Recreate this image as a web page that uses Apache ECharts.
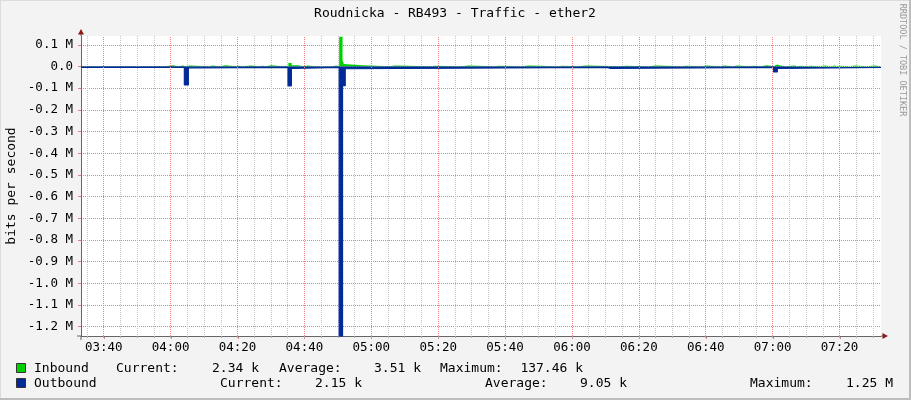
<!DOCTYPE html>
<html><head><meta charset="utf-8">
<script src="https://cdn.jsdelivr.net/npm/echarts@6/dist/echarts.min.js"></script>
<style>
html,body{margin:0;padding:0;background:#f3f3f3;overflow:hidden}
#c{position:absolute;left:0;top:0;width:911px;height:400px}
.b{position:absolute;pointer-events:none}
</style></head>
<body>
<div id="c"></div>
<div class="b" style="left:0;top:0;width:911px;height:1px;background:#dcdcdc"></div>
<div class="b" style="left:0;top:0;width:1px;height:400px;background:#dcdcdc"></div>
<div class="b" style="left:909px;top:0;width:2px;height:400px;background:#bdbdbd"></div>
<div class="b" style="left:0;top:398px;width:911px;height:2px;background:#bdbdbd"></div>
<script>
// ---------- data ----------
const chartTitle = 'Roudnicka - RB493 - Traffic - ether2';
const yAxisName = 'bits per second';
const creditText = 'RRDTOOL / TOBI OETIKER';
// time in minutes since midnight (03:33.2 .. 07:32.4)
const timeStart = 213.2;
const timeEnd = 452.4;
const majorTimes = [220, 240, 260, 280, 300, 320, 340, 360, 380, 400, 420, 440]; // 03:40 .. 07:20
const yMin = -1243000;
const yMax = 141000;
// Inbound [minute, bits/s] change points (step data)
const inbound = [
  [213.2,1500],[234,5000],[234.5,1500],[238.5,6000],[240.5,1500],[242.5,5000],[243.5,1500],
  [244.5,5000],[245.5,1500],[251.5,5000],[252.5,1500],[254.5,6000],[256.5,1500],
  [259.5,4000],[260.5,1500],[261.5,5000],[264,1500],[266.5,4000],[267.5,1500],
  [268.5,6000],[270,1500],[273.5,4000],[274.5,1500],[275.2,17000],[276.2,6000],[278.2,1500],
  [279.5,5000],[281,1500],[283.5,4000],[284,1500],[288.5,5000],[289.5,1500],
  [290.4,137460],[291.4,29000],[291.8,12000],[292.3,6000],[297.4,1500],
  [305.5,5000],[307,1500],[318,4000],[319,1500],[327,5000],[329,1500],[337,4000],[338,1500],
  [345,5000],[347,1500],[356,4000],[357,1500],[362,5000],[364,1500],[375,4000],[376,1500],
  [383,5000],[385,1500],[393,4000],[394,1500],[399,5000],[400,1500],
  [404.5,5000],[405.5,1500],[408.2,5000],[409.3,1500],[413.3,4000],[414.2,1500],
  [416.3,6000],[418.4,1500],[420.2,10000],[421.4,5000],[422.3,1500],[423.8,5000],[426.5,1500],
  [427.4,4000],[428.3,1500],[430.4,4000],[431.3,1500],[434.3,5000],[435.5,1500],
  [437.3,5000],[438.5,1500],[439.4,4000],[440,1500],[443.3,5000],[444.5,1500],
  [448.4,5000],[450.5,1500],[452.4,1500]
];
// Outbound [minute, bits/s] change points (drawn below zero)
const outbound = [
  [213.2,4000],[244.1,85000],[245.3,6000],[246.2,4000],
  [275.1,89000],[276.1,8000],[276.8,4000],
  [290.4,1250000],[291.4,88000],[292.2,10000],[293,4000],
  [370.5,8000],[371.5,4000],
  [420.3,25000],[421.4,8000],[422,4000],[452.4,4000]
];
const legendNames = ['Inbound', 'Outbound'];
const legendCurrent = ['2.34 k', '2.15 k'];
const legendAverage = ['3.51 k', '9.05 k'];
const legendMaximum = ['137.46 k', '1.25 M'];

// ---------- styles ----------
const FONT = '"DejaVu Sans Mono", "Liberation Mono", monospace';
const GREEN = '#00cf00', BLUE = '#002a97';
const MAJOR = '#eb7f7f', MINOR = '#c4c4c4';
const pad = n => (n < 10 ? '0' : '') + n;
const isMajor = v => majorTimes.some(t => Math.abs(t - v) < 1e-6);
const fmtTime = v => { const m = Math.round(v); return pad(Math.floor(m / 60)) + ':' + pad(m % 60); };
const fmtY = v => Math.abs(v) < 1 ? '0.0' : (v / 1e6).toFixed(1) + ' M';

const chart = echarts.init(document.getElementById('c'), null, {renderer: 'canvas'});
const option = {
  backgroundColor: '#f3f3f3',
  animation: false,
  grid: {left: 81, top: 36, width: 800, height: 300, show: true, backgroundColor: '#fff', borderWidth: 0},
  xAxis: {type: 'value', min: timeStart, max: timeEnd, minInterval: 5, maxInterval: 5,
    axisLine: {show: true, onZero: false, lineStyle: {color: '#666', width: 1}},
    axisTick: {show: true, length: 2, lineStyle: {color: '#aaa'}},
    axisLabel: {interval: 0, margin: 5, showMinLabel: false, showMaxLabel: false, hideOverlap: false,
      fontFamily: FONT, fontSize: 12.5, color: '#000', formatter: v => isMajor(v) ? fmtTime(v) : ''},
    // 5-minute lines (215, 220, 225, 230, ...): the 20-minute ones are left to the red lines
    splitLine: {show: true, showMinLine: false, showMaxLine: false,
      lineStyle: {color: [MINOR, 'rgba(0,0,0,0)', MINOR, MINOR], type: [1, 1], width: 1}}},
  yAxis: {type: 'value', min: yMin, max: yMax, minInterval: 100000, maxInterval: 100000,
    axisLine: {show: true, onZero: false, lineStyle: {color: '#666', width: 1}},
    axisTick: {show: true, length: 3, lineStyle: {color: '#e08080'}},
    axisLabel: {margin: 8, showMinLabel: false, showMaxLabel: false, fontFamily: FONT, fontSize: 12.5, color: '#000', formatter: fmtY},
    splitLine: {show: true, showMinLine: false, showMaxLine: false, lineStyle: {color: MAJOR, type: [1, 1], width: 1}}},
  series: [
    {type: 'line', name: 'Inbound', data: inbound, step: 'end', symbol: 'none', z: 3,
      lineStyle: {width: 0}, areaStyle: {color: GREEN, opacity: 1},
      markLine: {silent: true, symbol: 'none', label: {show: false}, animation: false, precision: 6,
        lineStyle: {color: MAJOR, type: [1, 1], width: 1, opacity: 1},
        emphasis: {disabled: true},
        data: majorTimes.map(t => ({xAxis: t}))}},
    {type: 'line', name: 'Outbound', data: outbound.map(p => [p[0], -p[1]]), step: 'end', symbol: 'none', z: 4,
      lineStyle: {width: 1.2, color: BLUE}, areaStyle: {color: BLUE, opacity: 1}}
  ]
};
chart.setOption(option);

// ---------- decorations ----------
const tl = chart.convertToPixel({xAxisIndex: 0, yAxisIndex: 0}, [timeStart, yMax]);
const br = chart.convertToPixel({xAxisIndex: 0, yAxisIndex: 0}, [timeEnd, yMin]);
const ARROW = '#8b1a1a';
const txt = (text, x, y, align, size, fill, rot) => ({type: 'text', x, y, rotation: rot || 0, silent: true,
  style: {text, font: (size || 13) + 'px ' + FONT, fill: fill || '#000', align: align || 'left', verticalAlign: 'middle',
    textAlign: align || 'left', textVerticalAlign: 'middle'}});
const g = [];
g.push(txt(chartTitle, 455, 14, 'center', 13));
g.push(txt(yAxisName, 12, 186, 'center', 13, '#000', Math.PI / 2));
g.push(txt(creditText, 902, 60, 'center', 8.5, '#999', -Math.PI / 2));
// major x ticks below the axis
majorTimes.forEach(t => {
  const p = chart.convertToPixel({xAxisIndex: 0, yAxisIndex: 0}, [t, yMin]);
  const x = Math.round(p[0]) + 0.5;
  g.push({type: 'line', silent: true, shape: {x1: x, y1: p[1], x2: x, y2: p[1] + 3}, style: {stroke: '#e08080', lineWidth: 1}});
});
// axis extensions and arrows
g.push({type: 'line', silent: true, shape: {x1: tl[0], y1: tl[1], x2: tl[0], y2: tl[1] - 5}, style: {stroke: '#666', lineWidth: 1}});
g.push({type: 'line', silent: true, shape: {x1: tl[0], y1: br[1], x2: tl[0], y2: br[1] + 4}, style: {stroke: '#666', lineWidth: 1}});
g.push({type: 'line', silent: true, shape: {x1: tl[0] - 4, y1: br[1], x2: tl[0], y2: br[1]}, style: {stroke: '#666', lineWidth: 1}});
g.push({type: 'line', silent: true, shape: {x1: br[0], y1: br[1], x2: br[0] + 3, y2: br[1]}, style: {stroke: '#666', lineWidth: 1}});
g.push({type: 'polygon', silent: true, shape: {points: [[tl[0], tl[1] - 7], [tl[0] - 3, tl[1] - 1.5], [tl[0] + 3, tl[1] - 1.5]]}, style: {fill: ARROW}});
g.push({type: 'polygon', silent: true, shape: {points: [[br[0] + 7, br[1]], [br[0] + 1.5, br[1] - 3], [br[0] + 1.5, br[1] + 3]]}, style: {fill: ARROW}});
// legend
const rowY = [369, 384];
const colors = [GREEN, BLUE];
const cols = [
  {cur: 116, curV: 259, avg: 279, avgV: 421, max: 440, maxV: 583},
  {cur: 220, curV: 362, avg: 485, avgV: 627, max: 750, maxV: 893}
];
for (let i = 0; i < 2; i++) {
  const y = rowY[i], c = cols[i];
  g.push({type: 'rect', silent: true, shape: {x: 16.5, y: y - 5.5, width: 9, height: 9}, style: {fill: colors[i], stroke: '#333', lineWidth: 1}});
  g.push(txt(legendNames[i], 34, y, 'left'));
  g.push(txt('Current:', c.cur, y, 'left'));
  g.push(txt(legendCurrent[i], c.curV, y, 'right'));
  g.push(txt('Average:', c.avg, y, 'left'));
  g.push(txt(legendAverage[i], c.avgV, y, 'right'));
  g.push(txt('Maximum:', c.max, y, 'left'));
  g.push(txt(legendMaximum[i], c.maxV, y, 'right'));
}
chart.setOption({graphic: {elements: g}});
</script>
</body></html>
